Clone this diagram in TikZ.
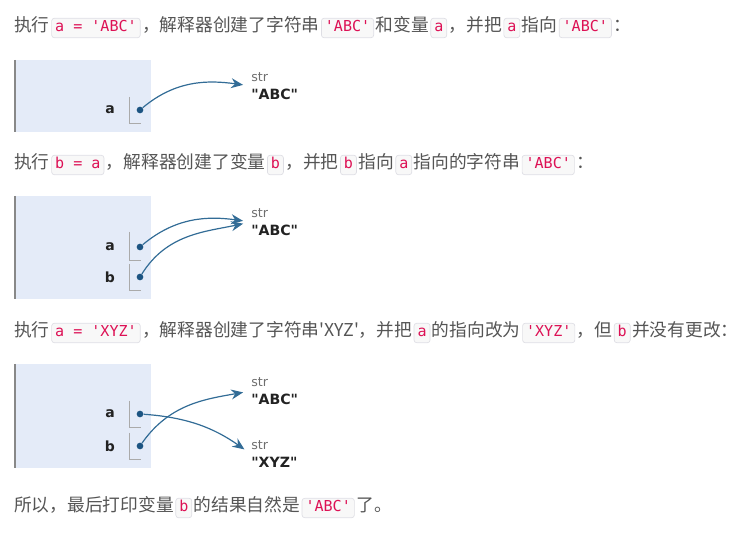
\documentclass[tikz,border=0pt]{standalone}
\usepackage{fontspec}
\setmainfont{Noto Sans CJK SC}[Ligatures=TeXOff]
\setmonofont{DejaVu Sans Mono}
\newfontfamily\vizfont{DejaVu Sans}
\usepackage{tikz}
\usetikzlibrary{arrows.meta,positioning}
\definecolor{txink}{RGB}{85,85,85}
\definecolor{cdink}{RGB}{221,17,85}
\definecolor{cdbg}{RGB}{248,248,248}
\definecolor{cdedge}{RGB}{222,222,228}
\definecolor{frbg}{RGB}{228,235,248}
\definecolor{fredge}{RGB}{170,170,170}
\definecolor{ptrblue}{RGB}{50,108,150}
\definecolor{ptrdot}{RGB}{28,84,130}
\definecolor{objink}{RGB}{34,34,34}
\definecolor{taggray}{RGB}{110,110,110}
\tikzset{
  line/.style={anchor=base west, inner sep=0pt, text=txink,
    font=\fontsize{13.3}{15}\selectfont},
  code/.style={draw=cdedge, fill=cdbg, line width=0.5pt, rounded corners=2pt,
    text=cdink, font=\ttfamily\fontsize{11.3}{13}\selectfont,
    inner xsep=2.6pt, inner ysep=1pt, text height=9.3pt, text depth=3.3pt},
  stackfr/.style={fill=frbg},
  frline/.style={draw=fredge!80!black, line width=0.9pt},
  var/.style={font=\vizfont\bfseries\fontsize{10.5}{12}\selectfont,
    text=objink, inner sep=0pt},
  dot/.style={circle, fill=ptrdot, inner sep=0pt, minimum size=5pt},
  obj/.style={align=left, anchor=west, inner sep=0pt,
    font=\vizfont\fontsize{10.6}{13.5}\selectfont, text=objink},
  ptr/.style={-{Stealth[length=9pt,width=7.5pt,inset=3pt]}, draw=ptrblue,
    line width=0.9pt, shorten >=6pt},
  brk/.style={draw=fredge, line width=0.7pt}
}
\newcommand\ic[1]{\hspace{1.2pt}\tikz[baseline=(ic.base)]\node[code](ic){#1};\hspace{1.2pt}}
\newcommand\tagtxt[1]{{\mdseries\fontsize{9.5}{10}\selectfont\color{taggray}#1}}

\begin{document}
\begin{tikzpicture}[x=0.75pt,y=0.75pt]
  \useasboundingbox (0,0) rectangle (740,543);
  % step 1: a = 'ABC'
  \node[line] (l1) at (14,511)
    {执行\ic{a = 'ABC'}，解释器创建了字符串\ic{'ABC'}和变量\ic{a}，并把\ic{a}指向\ic{'ABC'}：};
  \fill[stackfr] (14,483) rectangle (151,411);
  \draw[frline] (15,483) -- (15,411);
  \node[dot] (d1a) at (140,433) {};
  \node[var, left=16pt of d1a] (v1a) {a};
  \draw[brk] ([shift={(-11,13)}]d1a.center) |- ([shift={(1,-13)}]d1a.center);
  \node[obj] (o1abc) at (251,457) {\tagtxt{str}\\\bfseries"ABC"};
  \draw[ptr] (d1a) to[out=40,in=172] (o1abc.west);

  % step 2: b = a
  \node[line] (l2) at (14,374)
    {执行\ic{b = a}，解释器创建了变量\ic{b}，并把\ic{b}指向\ic{a}指向的字符串\ic{'ABC'}：};
  \fill[stackfr] (14,347) rectangle (151,244);
  \draw[frline] (15,347) -- (15,244);
  \node[dot] (d2a) at (140,296) {};
  \node[dot] (d2b) at (140,266) {};
  \node[var, left=16pt of d2a] (v2a) {a};
  \node[var, left=16pt of d2b] (v2b) {b};
  \draw[brk] ([shift={(-11,15)}]d2a.center) |- ([shift={(1,-13)}]d2a.center);
  \draw[brk] ([shift={(-11,13)}]d2b.center) |- ([shift={(1,-13)}]d2b.center);
  \node[obj] (o2abc) at (251,321) {\tagtxt{str}\\\bfseries"ABC"};
  \draw[ptr] (d2a) to[out=40,in=172] (o2abc.west);
  \draw[ptr] (d2b) to[out=58,in=192] (o2abc.west);

  % step 3: a = 'XYZ'
  \node[line] (l3) at (14,206)
    {执行\ic{a = 'XYZ'}，解释器创建了字符串'XYZ'，并把\ic{a}的指向改为\ic{'XYZ'}，但\ic{b}并没有更改：};
  \fill[stackfr] (14,179) rectangle (151,75);
  \draw[frline] (15,179) -- (15,75);
  \node[dot] (d3a) at (140,129) {};
  \node[dot] (d3b) at (140,97) {};
  \node[var, left=16pt of d3a] (v3a) {a};
  \node[var, left=16pt of d3b] (v3b) {b};
  \draw[brk] ([shift={(-11,13)}]d3a.center) |- ([shift={(1,-13)}]d3a.center);
  \draw[brk] ([shift={(-11,13)}]d3b.center) |- ([shift={(1,-13)}]d3b.center);
  \node[obj] (o3abc) at (251,152) {\tagtxt{str}\\\bfseries"ABC"};
  \node[obj] (o3xyz) at (251,89) {\tagtxt{str}\\\bfseries"XYZ"};
  \draw[ptr] (d3a) to[out=-4,in=145] (o3xyz.west);
  \draw[ptr] (d3b) to[out=55,in=190] (o3abc.west);

  % result
  \node[line] (l4) at (14,31)
    {所以，最后打印变量\ic{b}的结果自然是\ic{'ABC'}了。};
\end{tikzpicture}
\end{document}
